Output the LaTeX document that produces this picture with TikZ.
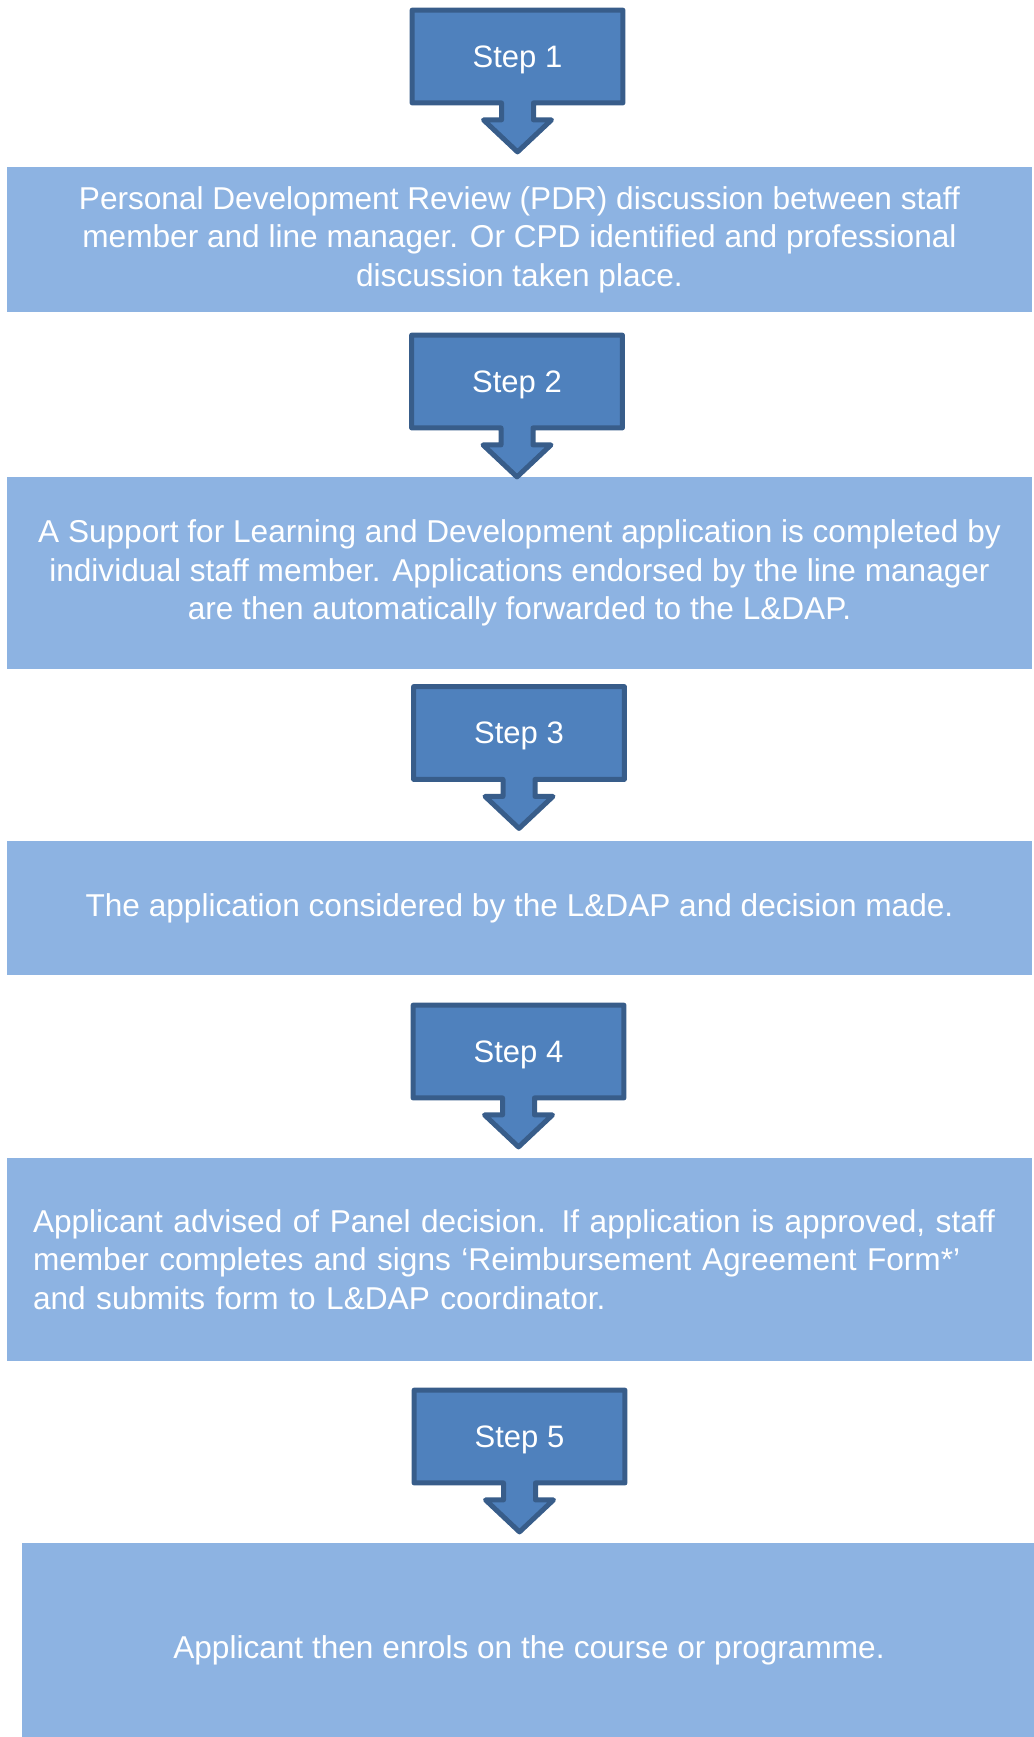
\documentclass[tikz,border=0pt]{standalone}
\usepackage{fontspec}
\setmainfont{Liberation Sans}
\usetikzlibrary{calc}
\definecolor{stepfill}{HTML}{4F81BD}
\definecolor{stepedge}{HTML}{385D8A}
\definecolor{boxfill}{HTML}{8DB3E2}

\begin{document}
\begin{tikzpicture}[x=0.5pt,y=-0.5pt,
    box/.style={rectangle,fill=boxfill,text=white,inner sep=0pt,minimum width=512.5pt,
      align=center,font=\fontsize{15.8}{19.2}\selectfont},
    stepbox/.style={rectangle,inner sep=0pt,minimum width=105pt,minimum height=46pt},
    steplabel/.style={text=white,yshift=-1.5pt,font=\fontsize{15.5}{18}\selectfont},
    stepshape/.style={draw=stepedge,fill=stepfill,line width=2.5pt,line join=round}]
    \useasboundingbox (0,0) rectangle (1034,1737);
    \clip (0,0) rectangle (1034,1737);

    % the five boxes
    \node (pdr) [box,minimum height=72.5pt] at (519.5,239.5)
      {Personal Development Review (PDR) discussion between staff\\
       member and line manager. Or CPD identified and professional\\
       discussion taken place.};
    \node (appl) [box,minimum height=96pt] at (519.5,573)
      {A Support for Learning and Development application is completed by\\
       individual staff member. Applications endorsed by the line manager\\
       are then automatically forwarded to the L\&DAP.};
    \node (panel) [box,minimum height=67pt] at (519.5,908)
      {The application considered by the L\&DAP and decision made.};
    \node (advis) [box,minimum height=101.5pt,text width=486.5pt,align=left] at (519.5,1259.5)
      {Applicant advised of Panel decision. If application is approved, staff\\
       member completes and signs ‘Reimbursement Agreement Form*’\\
       and submits form to L\&DAP coordinator.};
    \node (enrol) [box,minimum width=507pt,minimum height=107pt] at (529,1650)
      {Applicant then enrols on the course or programme.};

    % step callouts
    \foreach \n/\x/\y in {1/517.5/56.5,2/517/381.5,3/519/733,4/518.5/1051.5,5/519.5/1436.5} {
      \node (step\n) [stepbox] at (\x,\y) {};
      \draw[stepshape] (step\n.south west) -- (step\n.north west) -- (step\n.north east)
        -- (step\n.south east) -- ($(step\n.south)+(8pt,0)$) -- ++(0,-8.5pt) -- ++(9pt,0)
        -- ($(step\n.south)+(0,-24.5pt)$) -- ($(step\n.south)+(-17pt,-8.5pt)$) -- ++(9pt,0)
        -- ($(step\n.south)+(-8pt,0)$) -- cycle
        (step\n.center) node (step\n-t) [steplabel] {Step \n};
    }
\end{tikzpicture}
\end{document}
